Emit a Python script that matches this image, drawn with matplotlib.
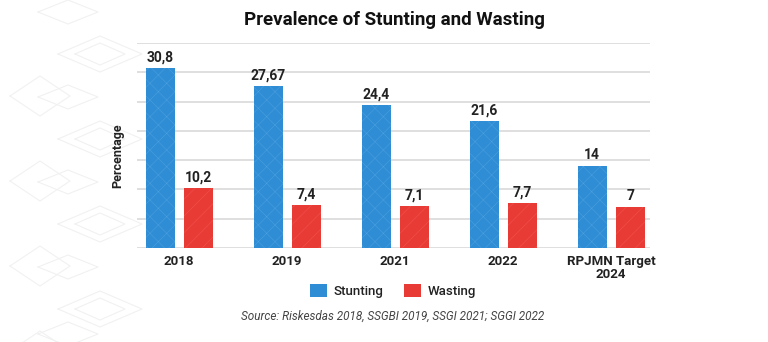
import matplotlib
matplotlib.use("Agg")
import matplotlib.pyplot as plt
from matplotlib.lines import Line2D
import numpy as np

categories = ["2018", "2019", "2021", "2022", "RPJMN Target\n2024"]
stunting = [30.8, 27.67, 24.4, 21.6, 14]
wasting = [10.2, 7.4, 7.1, 7.7, 7]

def fmt(v):
    s = ("%g" % v)
    return s.replace(".", ",")

plt.rcParams['font.family'] = ['Roboto', 'DejaVu Sans']
plt.rcParams['hatch.linewidth'] = 0.35

W, H = 768, 342
fig = plt.figure(figsize=(7.68, 3.42), dpi=100)

# faint decorative diamond background on the left
def diamond(cx, cy, hw, hh):
    xs = [cx - hw, cx, cx + hw, cx, cx - hw]
    ys = [cy, cy - hh, cy, cy + hh, cy]
    fig.add_artist(Line2D([a / W for a in xs], [1 - b / H for b in ys],
                          color="#f1f1f1", lw=0.8, zorder=0))
for cy in [12, 97, 182, 267, 334]:
    diamond(68, cy, 30, 12)
for cy in [54, 139, 224, 309]:
    diamond(100, cy, 42, 18)
    diamond(100, cy, 25, 11)
for cy in [54, 139, 224, 309]:
    diamond(40, cy + 42, 30, 20)

ax = fig.add_axes([137/W, 1-248/H, (650-137)/W, (248-43)/H])
ax.patch.set_alpha(0)

x = np.arange(len(categories))
w = 0.27
off = 0.176
blue = "#2F8DD5"
red = "#E93B36"
b1 = ax.bar(x - off, stunting, w, color=blue, edgecolor="#4D9FDD", hatch="xx", linewidth=0, zorder=3)
b2 = ax.bar(x + off, wasting, w, color=red, edgecolor="#EE5550", hatch="//", linewidth=0, zorder=3)

for xi, v in zip(x - off, stunting):
    ax.text(xi, v + 0.6, fmt(v), ha="center", va="bottom", fontsize=10, fontweight="bold", color="#222222")
for xi, v in zip(x + off, wasting):
    ax.text(xi, v + 0.6, fmt(v), ha="center", va="bottom", fontsize=10, fontweight="bold", color="#222222")

ax.set_ylim(0, 35)
ax.set_xlim(-0.39, 4.36)
ax.set_yticks(np.arange(0, 36, 5))
ax.set_yticklabels([])
ax.tick_params(axis="y", length=0)
ax.tick_params(axis="x", length=0, pad=5)
ax.set_xticks(x)
ax.set_xticklabels(categories, fontsize=9.5, fontweight="bold", color="#222222", linespacing=1.0)
ax.grid(axis="y", color="#dcdcdc", linewidth=1.3, zorder=0)
for s in ax.spines.values():
    s.set_visible(False)
ax.set_ylabel("Percentage", fontsize=9, fontweight="bold", color="#222222", labelpad=2)
ax.yaxis.set_label_coords(-0.025, 0.45)

fig.text(394/W, 1 - 20/H, "Prevalence of Stunting and Wasting",
         ha="center", va="center", fontsize=13.5, fontweight="bold", color="#111111")

leg = fig.legend([b1, b2], ["Stunting", "Wasting"], loc="center", bbox_to_anchor=(393/W, 1 - 291/H),
                 ncol=2, frameon=False, handlelength=1.3, handleheight=1.1,
                 columnspacing=1.5, handletextpad=0.5,
                 prop={"size": 9.5, "weight": "medium"})
for h in leg.legend_handles:
    h.set_hatch(None)
    h.set_linewidth(0)
for t in leg.get_texts():
    t.set_color("#222222")

fig.text(393/W, 1 - 316/H, "Source: Riskesdas 2018, SSGBI 2019, SSGI 2021; SGGI 2022",
         ha="center", va="center", fontsize=8.5, style="italic", color="#444444")

fig.savefig("out.png", dpi=100)
